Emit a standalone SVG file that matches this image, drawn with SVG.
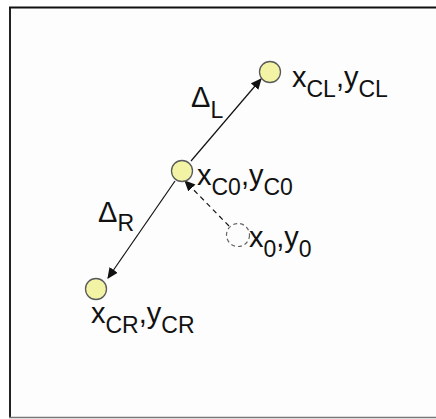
<svg xmlns="http://www.w3.org/2000/svg" width="436" height="419" viewBox="0 0 436 419">
<style>
.pt{fill:#f3f3a6;stroke:#5a5a5a;stroke-width:1.3}
.ghost{fill:none;stroke:#666;stroke-width:1.2;stroke-dasharray:4 3}
.lbl{font-family:"Liberation Sans",Arial,sans-serif;font-size:29px;fill:#111}
.sub{font-size:23px}
.arr{stroke:#111;stroke-width:1.2;fill:none;marker-end:url(#ah)}
.dash{stroke-dasharray:5 4}
</style>
<defs>
<marker id="ah" viewBox="0 0 10 10" refX="9" refY="5" markerWidth="11" markerHeight="11" markerUnits="userSpaceOnUse" orient="auto">
<path d="M0,0.5 L10,5 L0,9.5 Z" fill="#111"/>
</marker>
</defs>
<rect x="0" y="0" width="436" height="419" fill="#fff"/>
<rect x="10" y="7.5" width="430" height="410" fill="#fdfdfd"/>
<g id="frame">
<line x1="10" y1="7" x2="10" y2="418" stroke="#222" stroke-width="2"/>
<line x1="9" y1="7.5" x2="436" y2="7.5" stroke="#111" stroke-width="2"/>
<line x1="9" y1="417.5" x2="436" y2="417.5" stroke="#777" stroke-width="1.5"/>
</g>
<g id="connectors">
<line class="arr" x1="191" y1="161" x2="261" y2="79"/>
<line class="arr" x1="175" y1="181" x2="108" y2="278"/>
<line class="arr dash" x1="229" y1="226" x2="185" y2="181"/>
</g>
<g id="nodeCL">
<circle class="pt" cx="270" cy="72" r="10.5"/>
<text class="lbl" x="292" y="87">x<tspan class="sub" dy="10">CL</tspan><tspan dy="-10">,y</tspan><tspan class="sub" dy="10">CL</tspan></text>
</g>
<g id="nodeC0">
<circle class="pt" cx="182" cy="171" r="10.5"/>
<text class="lbl" x="197" y="185">x<tspan class="sub" dy="10">C0</tspan><tspan dy="-10">,y</tspan><tspan class="sub" dy="10">C0</tspan></text>
</g>
<g id="nodeCR">
<circle class="pt" cx="96" cy="289" r="10.5"/>
<text class="lbl" x="91" y="323">x<tspan class="sub" dy="10">CR</tspan><tspan dy="-10">,y</tspan><tspan class="sub" dy="10">CR</tspan></text>
</g>
<g id="node0">
<circle class="ghost" cx="238" cy="235" r="11.5"/>
<text class="lbl" x="249" y="247">x<tspan class="sub" dy="10">0</tspan><tspan dy="-10">,y</tspan><tspan class="sub" dy="10">0</tspan></text>
</g>
<g id="labels">
<text class="lbl" x="191" y="107">Δ<tspan class="sub" dy="11">L</tspan></text>
<text class="lbl" x="98" y="222">Δ<tspan class="sub" dy="9">R</tspan></text>
</g>
</svg>
